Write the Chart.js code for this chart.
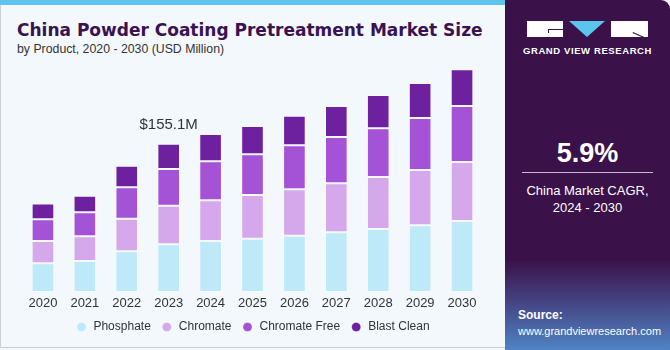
<!DOCTYPE html>
<html>
<head>
<meta charset="utf-8">
<script src="https://cdn.jsdelivr.net/npm/chart.js@4"></script>
<style>
  body { margin: 0; width: 670px; height: 350px; overflow: hidden; background: #f3f8fc; font-family: "Liberation Sans", Arial, sans-serif; position: relative; }
  .stripe { position: absolute; left: 0; top: 0; width: 510px; height: 5px; background: #5cc5ee; }
  .frame { position: absolute; left: 0; top: 5px; width: 508px; height: 342px; border-left: 1px solid #c9cfd6; border-bottom: 1px solid #c9cfd6; }
  h1 { position: absolute; left: 17px; top: 20px; margin: 0; font-family: "DejaVu Sans", sans-serif; font-size: 17px; font-weight: bold; color: #3a1252; white-space: nowrap; }
  .sub { position: absolute; left: 17px; top: 42px; font-size: 12.3px; color: #333; white-space: nowrap; }
  #wrap { position: absolute; left: 0; top: 50px; width: 505px; height: 293px; }
  .panel { position: absolute; left: 505px; top: 0; width: 165px; height: 350px; border-top-right-radius: 9px; overflow: hidden;
    background: linear-gradient(180deg, #3a1149 0%, #3a1149 74%, #443e7d 85%, #4f84c4 100%); color: #fff; text-align: center; }
  .blk { position: absolute; background: #fff; }
  .mark { position: absolute; background: #3a1149; }
  .tri { position: absolute; left: 64px; top: 21px; width: 0; height: 0; border-left: 18.5px solid transparent; border-right: 18.5px solid transparent; border-top: 16px solid #5cc5ee; }
  .gvr { position: absolute; left: 0; width: 165px; top: 45px; font-size: 9.5px; font-weight: bold; letter-spacing: 0.6px; }
  .cagr { position: absolute; left: 0; width: 165px; top: 138px; font-size: 27px; font-weight: bold; }
  .line { position: absolute; left: 17px; width: 131px; top: 172px; height: 1px; background: #c9b8d6; }
  .txt { position: absolute; left: 0; width: 165px; top: 182px; font-size: 13px; line-height: 17px; }
  .src { position: absolute; left: 13px; top: 307px; font-size: 11px; text-align: left; line-height: 16px; }
  .src b { font-size: 12px; }
</style>
</head>
<body>
<div class="stripe"></div>
<div class="frame"></div>
<h1>China Powder Coating Pretreatment Market Size</h1>
<div class="sub">by Product, 2020 - 2030 (USD Million)</div>
<div id="wrap"><canvas id="chart"></canvas></div>
<div class="panel">
  <div class="blk" style="left:22px;top:21px;width:36px;height:16px"></div>
  <div class="mark" style="left:43px;top:29px;width:15px;height:1px"></div>
  <div class="mark" style="left:43px;top:29px;width:1px;height:4px"></div>
  <div class="tri"></div>
  <div class="blk" style="left:106px;top:21px;width:37px;height:16px"></div>
  <div class="mark" style="left:128px;top:32px;width:16px;height:1px;transform:rotate(24deg);transform-origin:0 0"></div>
  <div class="gvr">GRAND VIEW RESEARCH</div>
  <div class="cagr">5.9%</div>
  <div class="line"></div>
  <div class="txt">China Market CAGR,<br>2024 - 2030</div>
  <div class="src"><b>Source:</b><br>www.grandviewresearch.com</div>
</div>
<script>
const years = ['2020', '2021', '2022', '2023', '2024', '2025', '2026', '2027', '2028', '2029', '2030'];
const phosphate = [30.0, 32.4, 42.6, 49.9, 53.3, 55.8, 58.9, 62.4, 65.9, 69.8, 74.3];
const chromate = [23.3, 25.8, 34.1, 40.4, 42.6, 45.7, 48.5, 51.3, 54.4, 57.8, 61.7];
const chromateFree = [22.7, 25.1, 32.8, 38.4, 40.8, 42.6, 46.0, 48.4, 50.9, 54.4, 58.6];
const blastClean = [16.7, 17.4, 22.6, 26.5, 28.6, 29.6, 31.0, 32.4, 34.8, 36.6, 38.4];
const labelYear = '2023';
const labelText = '$155.1M';

const ctx = document.getElementById('chart').getContext('2d');
const font = '"Liberation Sans", Arial, sans-serif';

// value label above the 2023 bar
const totalLabel = {
    id: 'totalLabel',
    afterDatasetsDraw(chart) {
        const i = years.indexOf(labelYear);
        const bar = chart.getDatasetMeta(3).data[i];
        const c = chart.ctx;
        c.save();
        c.font = '15px ' + font;
        c.fillStyle = '#333';
        c.textAlign = 'center';
        c.textBaseline = 'middle';
        c.fillText(labelText, bar.x, bar.y - 19);
        c.restore();
    }
};

const mk = (label, data, color) => ({
    label: label,
    data: data,
    backgroundColor: color,
    borderColor: 'rgba(255,255,255,0.35)',
    borderWidth: 1,
    borderSkipped: false,
    barPercentage: 0.54,
    categoryPercentage: 1
});

new Chart(ctx, {
    type: 'bar',
    data: {
        labels: years,
        datasets: [
            mk('Phosphate', phosphate, '#bde9f9'),
            mk('Chromate', chromate, '#d4a8eb'),
            mk('Chromate Free', chromateFree, '#a452d6'),
            mk('Blast Clean', blastClean, '#6e219e')
        ]
    },
    options: {
        responsive: true,
        maintainAspectRatio: false,
        animation: false,
        layout: { padding: { left: 22, right: 22, top: 3, bottom: 0 } },
        scales: {
            x: {
                stacked: true,
                grid: { display: false, drawTicks: false },
                border: { display: false },
                ticks: { color: '#333', font: { size: 13, family: font, lineHeight: 1 }, padding: 5 },
                afterFit(scale) { scale.height = 19; }
            },
            y: {
                stacked: true,
                display: false,
                min: 0,
                max: 250
            }
        },
        plugins: {
            legend: {
                position: 'bottom',
                labels: {
                    usePointStyle: true,
                    pointStyle: 'circle',
                    boxWidth: 12,
                    boxHeight: 6.5,
                    padding: 10,
                    color: '#333',
                    font: { size: 12, family: font }
                }
            },
            tooltip: { enabled: false }
        }
    },
    plugins: [totalLabel]
});
</script>
</body>
</html>
